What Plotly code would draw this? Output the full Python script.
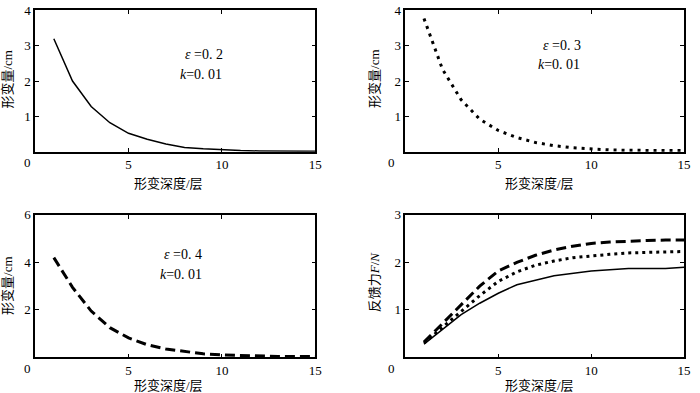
import plotly.graph_objects as go

# ---------------- data ----------------
layers = [1, 2, 3, 4, 5, 6, 7, 8, 9, 10, 11, 12, 13, 14, 15]
deform_e02 = [3.2, 2.0, 1.28, 0.82, 0.52, 0.35, 0.22, 0.12, 0.08, 0.05, 0.03, 0.02, 0.02, 0.01, 0.01]
deform_e03 = [3.77, 2.33, 1.47, 0.92, 0.6, 0.4, 0.26, 0.17, 0.11, 0.07, 0.05, 0.04, 0.03, 0.03, 0.03]
deform_e04 = [4.2, 2.95, 1.95, 1.25, 0.82, 0.53, 0.35, 0.24, 0.15, 0.1, 0.07, 0.05, 0.04, 0.04, 0.04]

force_layers = [1, 2, 3, 4, 5, 6, 8, 10, 12, 14, 15]
force_e02 = [0.28, 0.6, 0.9, 1.14, 1.35, 1.53, 1.72, 1.82, 1.87, 1.87, 1.9]
force_layers_b = [1, 2, 3, 4, 5, 6, 7, 8, 9, 10, 11, 12, 13, 14, 15]
force_e03 = [0.3, 0.64, 0.97, 1.3, 1.6, 1.8, 1.94, 2.03, 2.1, 2.14, 2.17, 2.2, 2.21, 2.22, 2.23]
force_e04 = [0.32, 0.72, 1.12, 1.5, 1.82, 2.0, 2.15, 2.26, 2.34, 2.4, 2.43, 2.45, 2.46, 2.47, 2.47]

x_ticks = [5, 10, 15]
x_title = "形变深度/层"
y_title_def = "形变量/cm"
y_title_force = "反馈力<i>F</i>/<i>N</i>"
labels_eps = ["<i>ε</i> =0. 2", "<i>ε</i> =0. 3", "<i>ε</i> =0. 4"]
label_k = "<i>k</i>=0. 01"

FONT = "Liberation Serif, Times New Roman, Noto Sans CJK SC, serif"
W, H = 700, 393

def px_x(v):
    return v / W

def px_y(v):
    return 1 - v / H

fig = go.Figure()

fig.add_trace(go.Scatter(x=layers, y=deform_e02, mode="lines",
                         line=dict(color="black", width=1.5), xaxis="x", yaxis="y"))
fig.add_trace(go.Scatter(x=layers, y=deform_e03, mode="lines",
                         line=dict(color="black", width=3, dash="3px,5px"), xaxis="x2", yaxis="y2"))
fig.add_trace(go.Scatter(x=layers, y=deform_e04, mode="lines",
                         line=dict(color="black", width=3, dash="10px,5px"), xaxis="x3", yaxis="y3"))
fig.add_trace(go.Scatter(x=force_layers, y=force_e02, mode="lines",
                         line=dict(color="black", width=1.5), xaxis="x4", yaxis="y4"))
fig.add_trace(go.Scatter(x=force_layers_b, y=force_e03, mode="lines",
                         line=dict(color="black", width=3, dash="3px,4px"), xaxis="x4", yaxis="y4"))
fig.add_trace(go.Scatter(x=force_layers_b, y=force_e04, mode="lines",
                         line=dict(color="black", width=3, dash="10px,5px"), xaxis="x4", yaxis="y4"))

left_dom = [px_x(35.5), px_x(318.5)]
right_dom = [px_x(409.5), px_x(691)]
top_dom = [px_y(147.3), px_y(3.5)]
bot_dom = [px_y(356.7), px_y(211.7)]

def xax(dom, anchor):
    return dict(domain=dom, anchor=anchor, range=[0, 15], tickvals=x_ticks,
                showline=True, linecolor="black", linewidth=1.5, mirror="ticks",
                ticks="inside", ticklen=4, tickwidth=1, tickcolor="black",
                showgrid=False, zeroline=False,
                tickfont=dict(family=FONT, size=13, color="black"))

def yax(dom, anchor, rng, tv):
    return dict(domain=dom, anchor=anchor, range=rng, tickvals=tv,
                showline=True, linecolor="black", linewidth=1.5, mirror="ticks",
                ticks="inside", ticklen=4, tickwidth=1, tickcolor="black",
                showgrid=False, zeroline=False,
                tickfont=dict(family=FONT, size=13, color="black"))

fig.update_layout(
    width=W, height=H,
    margin=dict(l=0, r=0, t=0, b=0),
    paper_bgcolor="white", plot_bgcolor="white",
    showlegend=False,
    font=dict(family=FONT, size=13, color="black"),
    xaxis=xax(left_dom, "y"), yaxis=yax(top_dom, "x", [0, 4], [1, 2, 3, 4]),
    xaxis2=xax(right_dom, "y2"), yaxis2=yax(top_dom, "x2", [0, 4], [1, 2, 3, 4]),
    xaxis3=xax(left_dom, "y3"), yaxis3=yax(bot_dom, "x3", [0, 6], [2, 4, 6]),
    xaxis4=xax(right_dom, "y4"), yaxis4=yax(bot_dom, "x4", [0, 3], [1, 2, 3]),
)

ann = []
def text(x, y, s, size=13, angle=0):
    ann.append(dict(x=px_x(x), y=px_y(y), xref="paper", yref="paper", text=s,
                    showarrow=False, xanchor="center", yanchor="middle", textangle=angle,
                    font=dict(family=FONT, size=size, color="black")))

for x0, y0 in [(27.3, 158.5), (395, 158.5), (27.3, 368.5), (395, 368.5)]:
    text(x0, y0, "0")

for xc, yc in [(170, 179.5), (545, 179.5), (170, 385.5), (545, 385.5)]:
    text(xc, yc, x_title)

text(8, 73, y_title_def, angle=-90)
text(378, 73, y_title_def, angle=-90)
text(8, 283, y_title_def, angle=-90)
text(378, 280, y_title_force, angle=-90)

text(206, 48.5, labels_eps[0], size=14)
text(203, 69, label_k, size=14)
text(568, 39, labels_eps[1], size=14)
text(565, 58.5, label_k, size=14)
text(185, 252, labels_eps[2], size=14)
text(183, 272, label_k, size=14)

fig.update_layout(annotations=ann)

fig.write_html("out.html",
               config={"displayModeBar": False},
               post_script="document.body.style.margin='0px';document.body.style.padding='0px';")
